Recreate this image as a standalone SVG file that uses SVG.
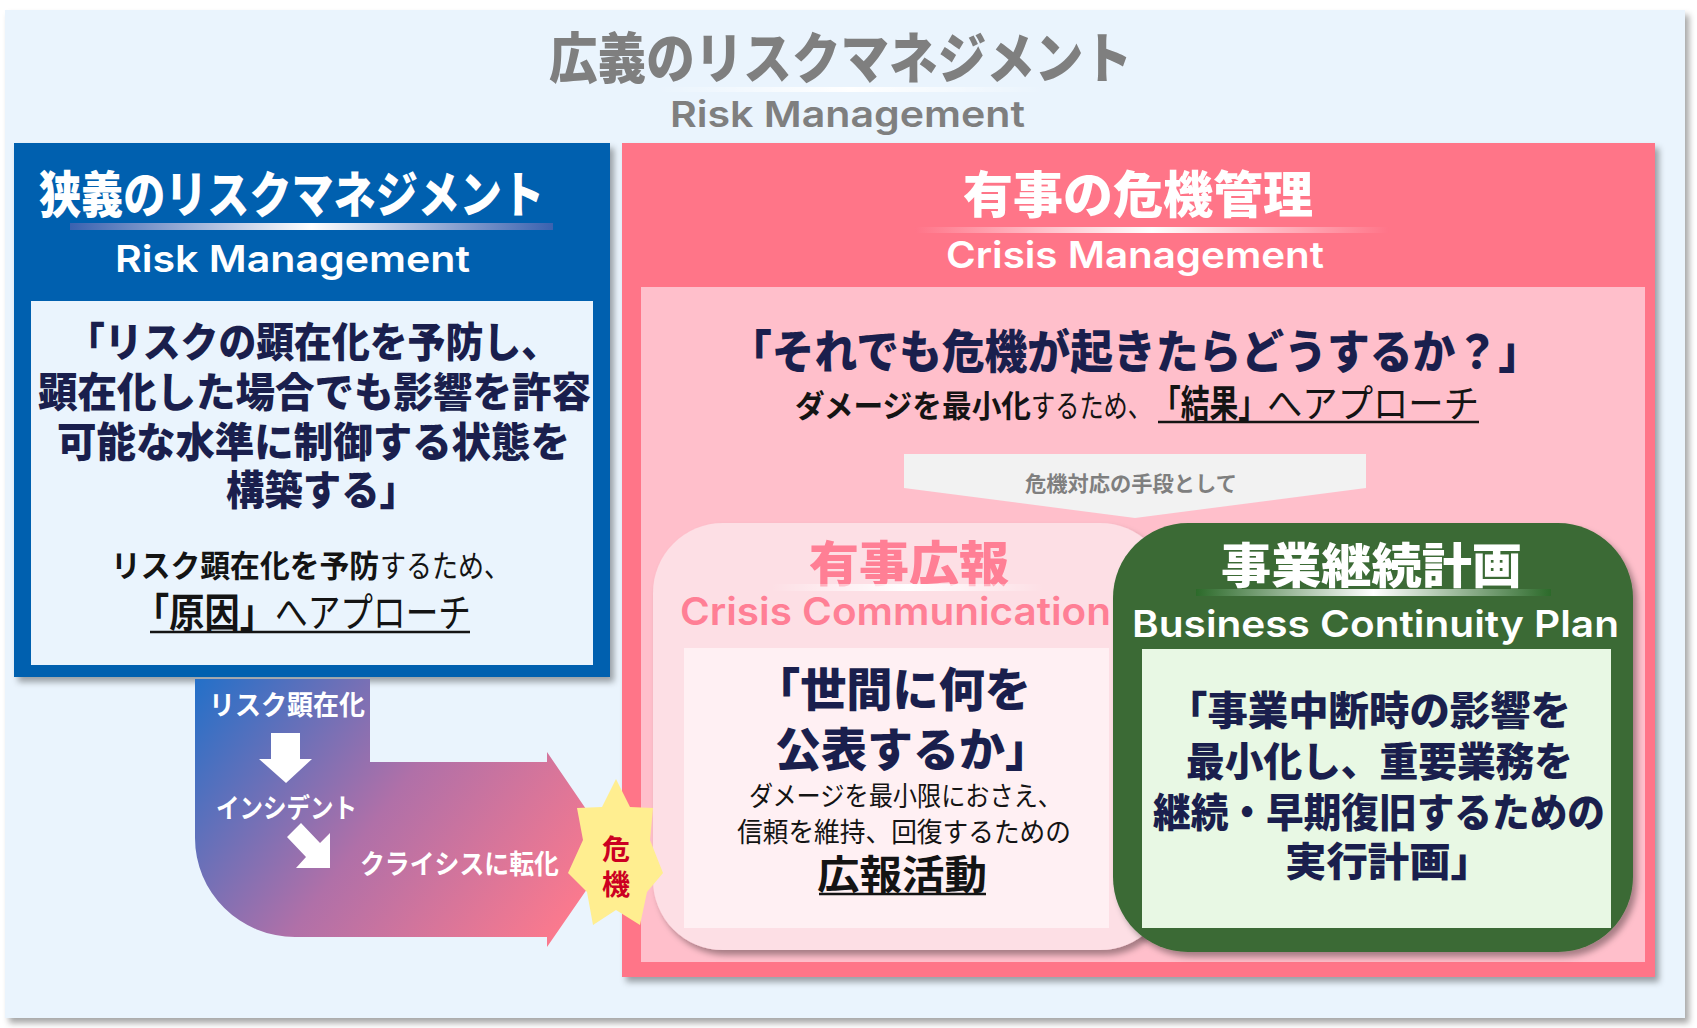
<svg xmlns="http://www.w3.org/2000/svg" width="1697" height="1028" viewBox="0 0 1697 1028">
<style>
.ja{font-family:"Noto Sans CJK JP","Noto Sans",sans-serif;}
.en{font-family:Inter,"Open Sans",sans-serif;font-weight:600;}
.b{font-weight:700;}
.h{font-weight:800;}
.r{font-weight:400;}
.navy{fill:#1A1F4D;}
.blk{fill:#141414;}
.wh{fill:#FFFFFF;}
</style>
<defs>
<filter id="sh" x="-5%" y="-5%" width="112%" height="112%">
<feDropShadow dx="4" dy="5" stdDeviation="3" flood-color="#000" flood-opacity="0.35"/>
</filter>
<linearGradient id="arrowGrad" gradientUnits="userSpaceOnUse" x1="200" y1="680" x2="560" y2="950">
<stop offset="0" stop-color="#2670C8"/>
<stop offset="0.5" stop-color="#B070A8"/>
<stop offset="1" stop-color="#FF7A8C"/>
</linearGradient>
<linearGradient id="lnBlue" x1="0" x2="1" y1="0" y2="0">
<stop offset="0" stop-color="#3A62B0"/>
<stop offset="0.5" stop-color="#FFFFFF"/>
<stop offset="1" stop-color="#3A62B0"/>
</linearGradient>
<linearGradient id="lnPink" x1="0" x2="1" y1="0" y2="0">
<stop offset="0" stop-color="#FF7488"/>
<stop offset="0.5" stop-color="#FFFFFF"/>
<stop offset="1" stop-color="#FF7488"/>
</linearGradient>
<linearGradient id="lnWhite" x1="0" x2="1" y1="0" y2="0">
<stop offset="0" stop-color="#FFFFFF" stop-opacity="0"/>
<stop offset="0.5" stop-color="#FFFFFF" stop-opacity="1"/>
<stop offset="1" stop-color="#FFFFFF" stop-opacity="0"/>
</linearGradient>
<linearGradient id="lnGreen" x1="0" x2="1" y1="0" y2="0">
<stop offset="0" stop-color="#2C6A2A"/>
<stop offset="0.5" stop-color="#FFFFFF"/>
<stop offset="1" stop-color="#2C6A2A"/>
</linearGradient>
</defs>

<rect x="0" y="0" width="1697" height="1028" fill="#FFFFFF"/>
<rect x="5" y="10" width="1680" height="1008" fill="#EAF4FD" filter="url(#sh)"/>

<g id="title">
<text class="ja h" x="549" y="78" font-size="55" fill="#7F7F7F" textLength="583" lengthAdjust="spacingAndGlyphs">広義のリスクマネジメント</text>
<rect x="656" y="87" width="389" height="5" fill="url(#lnWhite)"/>
<text class="en" x="670" y="127" font-size="36" fill="#7F7F7F" textLength="355" lengthAdjust="spacingAndGlyphs">Risk Management</text>
</g>

<g id="risk-management">
<rect x="14" y="143" width="596" height="534" fill="#0060AF" filter="url(#sh)"/>
<text class="ja h wh" x="39" y="213" font-size="50" textLength="505" lengthAdjust="spacingAndGlyphs">狭義のリスクマネジメント</text>
<rect x="70" y="223" width="483" height="7" fill="url(#lnBlue)"/>
<text class="en wh" x="115" y="272" font-size="37" textLength="355" lengthAdjust="spacingAndGlyphs">Risk Management</text>
<rect x="31" y="301" width="562" height="364" fill="#EAF4FD"/>
<text class="ja h navy" x="67" y="357" font-size="41" textLength="492" lengthAdjust="spacingAndGlyphs">「リスクの顕在化を予防し、</text>
<text class="ja h navy" x="38" y="407" font-size="41" textLength="553" lengthAdjust="spacingAndGlyphs">顕在化した場合でも影響を許容</text>
<text class="ja h navy" x="57" y="457" font-size="41" textLength="513" lengthAdjust="spacingAndGlyphs">可能な水準に制御する状態を</text>
<text class="ja h navy" x="226" y="505" font-size="41" textLength="192" lengthAdjust="spacingAndGlyphs">構築する」</text>
<text class="ja b blk" x="111" y="577" font-size="31" textLength="268" lengthAdjust="spacingAndGlyphs">リスク顕在化を予防</text>
<text class="ja r blk" x="380" y="577" font-size="31" textLength="130" lengthAdjust="spacingAndGlyphs">するため、</text>
<text class="ja b blk" x="134" y="627" font-size="40" textLength="141" lengthAdjust="spacingAndGlyphs">「原因」</text>
<text class="ja r blk" x="275" y="627" font-size="40" textLength="196" lengthAdjust="spacingAndGlyphs">へアプローチ</text>
<line x1="150" y1="632" x2="470" y2="632" stroke="#141414" stroke-width="2.5"/>
</g>

<g id="crisis-management">
<rect x="622" y="143" width="1033" height="834" fill="#FF7488" filter="url(#sh)"/>
<text class="ja h wh" x="963" y="213" font-size="50" textLength="350" lengthAdjust="spacingAndGlyphs">有事の危機管理</text>
<rect x="915" y="227" width="474" height="6" fill="url(#lnPink)"/>
<text class="en wh" x="946" y="268" font-size="37" textLength="378" lengthAdjust="spacingAndGlyphs">Crisis Management</text>
<rect x="641" y="287" width="1004" height="675" fill="#FFBFCB"/>
<text class="ja h navy" x="729" y="368" font-size="46" textLength="812" lengthAdjust="spacingAndGlyphs">「それでも危機が起きたらどうするか？」</text>
<text class="ja b blk" x="795" y="417" font-size="31" textLength="236" lengthAdjust="spacingAndGlyphs">ダメージを最小化</text>
<text class="ja r blk" x="1031" y="417" font-size="31" textLength="121" lengthAdjust="spacingAndGlyphs">するため、</text>
<text class="ja b blk" x="1152" y="417" font-size="38" textLength="115" lengthAdjust="spacingAndGlyphs">「結果」</text>
<text class="ja r blk" x="1267" y="417" font-size="38" textLength="212" lengthAdjust="spacingAndGlyphs">へアプローチ</text>
<line x1="1158" y1="422" x2="1479" y2="422" stroke="#141414" stroke-width="2.5"/>
</g>

<g id="means-chevron">
<polygon points="904,454 1366,454 1366,488 1135,518 904,488" fill="#F2F2F2"/>
<text class="ja b" x="1025" y="491" font-size="21" fill="#7F7F7F" textLength="212" lengthAdjust="spacingAndGlyphs">危機対応の手段として</text>
</g>

<g id="crisis-communication">
<rect x="653" y="523" width="517" height="427" rx="70" ry="70" fill="#FDDFE5" filter="url(#sh)"/>
<text class="ja h" x="809" y="581" font-size="48" fill="#FF7F95" textLength="200" lengthAdjust="spacingAndGlyphs">有事広報</text>
<rect x="771" y="584" width="273" height="7" fill="url(#lnWhite)"/>
<text class="en" x="680" y="625" font-size="38" fill="#FF7F95" textLength="431" lengthAdjust="spacingAndGlyphs">Crisis Communication</text>
<rect x="684" y="648" width="425" height="280" fill="#FFF0F3"/>
<text class="ja h navy" x="754" y="706" font-size="46" textLength="277" lengthAdjust="spacingAndGlyphs">「世間に何を</text>
<text class="ja h navy" x="775" y="766" font-size="46" textLength="276" lengthAdjust="spacingAndGlyphs">公表するか」</text>
<text class="ja r blk" x="749" y="806" font-size="27" textLength="313" lengthAdjust="spacingAndGlyphs">ダメージを最小限におさえ、</text>
<text class="ja r blk" x="737" y="842" font-size="27" textLength="334" lengthAdjust="spacingAndGlyphs">信頼を維持、回復するための</text>
<text class="ja b blk" x="817" y="889" font-size="40" textLength="170" lengthAdjust="spacingAndGlyphs">広報活動</text>
<line x1="819" y1="894" x2="986" y2="894" stroke="#141414" stroke-width="2.5"/>
</g>

<g id="business-continuity-plan">
<rect x="1113" y="523" width="520" height="429" rx="75" ry="75" fill="#3A6A35" filter="url(#sh)"/>
<text class="ja h wh" x="1221" y="583" font-size="48" textLength="301" lengthAdjust="spacingAndGlyphs">事業継続計画</text>
<rect x="1196" y="589" width="355" height="7" fill="url(#lnGreen)"/>
<text class="en wh" x="1132" y="637" font-size="37" textLength="487" lengthAdjust="spacingAndGlyphs">Business Continuity Plan</text>
<rect x="1142" y="649" width="469" height="279" fill="#E8F8E4"/>
<text class="ja h navy" x="1167" y="725" font-size="40" textLength="404" lengthAdjust="spacingAndGlyphs">「事業中断時の影響を</text>
<text class="ja h navy" x="1186" y="776" font-size="40" textLength="387" lengthAdjust="spacingAndGlyphs">最小化し、重要業務を</text>
<text class="ja h navy" x="1153" y="827" font-size="40" textLength="452" lengthAdjust="spacingAndGlyphs">継続・早期復旧するための</text>
<text class="ja h navy" x="1285" y="876" font-size="40" textLength="207" lengthAdjust="spacingAndGlyphs">実行計画」</text>
</g>

<g id="connectors">
<path d="M195,679 H370 V762 H547 V752 L614,850 L547,947 V937 H295 A100,99 0 0 1 195,838 Z" fill="url(#arrowGrad)"/>
<polygon points="271,733 300,733 300,759 312,759 286,783 259,759 271,759" fill="#FFFFFF"/>
<polygon points="301,823 320,843 330,833 330,868 296,868 306,857 287,837" fill="#FFFFFF"/>
<text class="ja b wh" x="209" y="715" font-size="27" textLength="156" lengthAdjust="spacingAndGlyphs">リスク顕在化</text>
<text class="ja b wh" x="216" y="818" font-size="27" textLength="141" lengthAdjust="spacingAndGlyphs">インシデント</text>
<text class="ja b wh" x="360" y="874" font-size="27" textLength="199" lengthAdjust="spacingAndGlyphs">クライシスに転化</text>
</g>

<g id="crisis-star">
<polygon points="616,779 630,807 653,808 650,840 663,873 647,892 640,925 616,910 593,925 587,892 568,873 583,840 577,808 602,807" fill="#FFEE90"/>
<text class="ja b" x="616" y="860" font-size="28" fill="#CC0022" text-anchor="middle">危</text>
<text class="ja b" x="616" y="895" font-size="28" fill="#CC0022" text-anchor="middle">機</text>
</g>
</svg>
